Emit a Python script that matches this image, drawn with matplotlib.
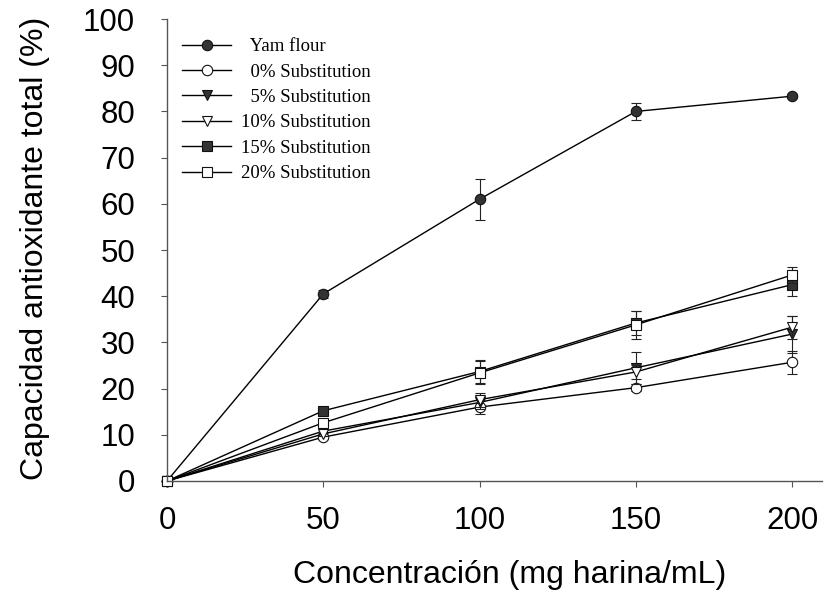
import matplotlib
matplotlib.use('Agg')
import matplotlib.pyplot as plt

conc = [0, 50, 100, 150, 200]

labels = ['  Yam flour', '  0% Substitution', '  5% Substitution',
          '10% Substitution', '15% Substitution', '20% Substitution']
yam = [0, 40.5, 61.0, 80.0, 83.3]
sub0 = [0, 9.5, 16.0, 20.2, 25.7]
sub5 = [0, 10.8, 17.0, 24.5, 31.8]
sub10 = [0, 10.2, 17.6, 23.6, 33.3]
sub15 = [0, 15.2, 23.7, 34.2, 42.5]
sub20 = [0, 12.6, 23.4, 33.8, 44.6]

yam_err = [0, 0.8, 4.4, 1.8, 0.5]
sub0_err = [0, 0.5, 1.5, 0.8, 2.5]
sub5_err = [0, 0.5, 1.5, 3.5, 4.0]
sub10_err = [0, 0.5, 1.5, 1.5, 2.5]
sub15_err = [0, 0.5, 2.5, 2.5, 2.5]
sub20_err = [0, 0.8, 2.5, 3.0, 1.8]

series = [yam, sub0, sub5, sub10, sub15, sub20]
errors = [yam_err, sub0_err, sub5_err, sub10_err, sub15_err, sub20_err]
markers = ['o', 'o', 'v', 'v', 's', 's']
faces = ['#333333', 'white', '#333333', 'white', '#333333', 'white']

fig = plt.figure(figsize=(8.3, 5.93), dpi=100)
ax = fig.add_axes([0.2012, 0.1889, 0.789, 0.779])

handles = []
for vals, err, m, fc, lab in zip(series, errors, markers, faces, labels):
    ax.errorbar(conc, vals, yerr=err, fmt='none', ecolor='#222222',
                elinewidth=0.8, capsize=3.5, capthick=0.8, clip_on=False)
    h, = ax.plot(conc, vals, color='black', lw=1.0, marker=m, markersize=7.5,
                 markerfacecolor=fc, markeredgecolor='#111111', markeredgewidth=0.8,
                 label=lab, clip_on=False)
    handles.append(h)

ax.set_xlim(0, 209.5)
ax.set_ylim(0, 100)
ax.set_xticks([0, 50, 100, 150, 200])
ax.set_yticks(range(0, 101, 10))

for s in ['top', 'right']:
    ax.spines[s].set_visible(False)
for s in ['left', 'bottom']:
    ax.spines[s].set_color('#555555')
    ax.spines[s].set_linewidth(1.0)

ax.tick_params(axis='y', direction='out', length=4, width=0.8, color='#555555',
               labelsize=22.5, pad=19)
ax.tick_params(axis='x', direction='out', length=4, width=0.8, color='#555555',
               labelsize=22.5, pad=14)
for t in ax.get_xticklabels() + ax.get_yticklabels():
    t.set_fontfamily('Liberation Sans')

leg = ax.legend(handles=handles, loc='upper left', bbox_to_anchor=(0.012, 0.975),
                frameon=False, prop={'family': 'Liberation Serif', 'size': 13.5},
                handlelength=2.6, handletextpad=0.55, labelspacing=0.44,
                borderaxespad=0)

fig.text(510 / 830, 1 - 575 / 593, 'Concentración (mg harina/mL)', ha='center',
         va='center', fontsize=23, family='Liberation Sans')
fig.text(35 / 830, 1 - 248 / 593, 'Capacidad antioxidante total (%)', ha='center',
         va='center', rotation=90, fontsize=23, family='Liberation Sans')

fig.savefig('out.png', dpi=100)
